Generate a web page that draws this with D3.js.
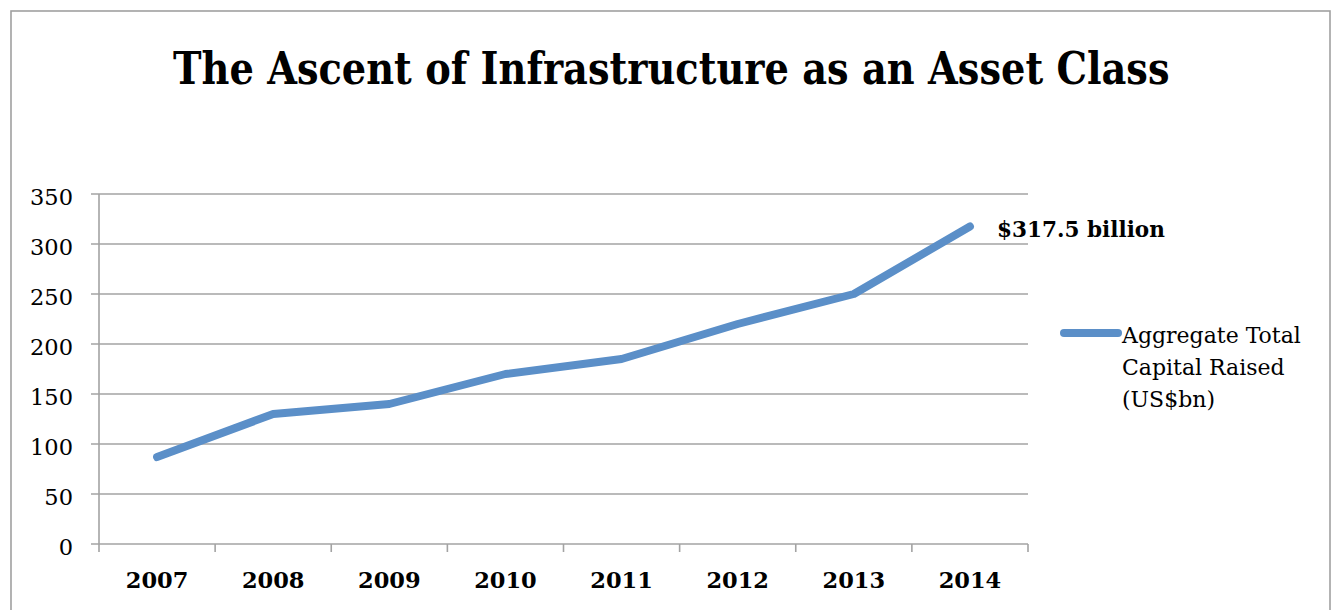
<!DOCTYPE html>
<html>
<head>
<meta charset="utf-8">
<script src="https://cdn.jsdelivr.net/npm/d3@7"></script>
<style>
  html, body { margin: 0; padding: 0; background: #fff; }
  svg { display: block; }
  text { font-family: "DejaVu Serif", "Liberation Serif", serif; fill: #000; }
</style>
</head>
<body>
<svg id="chart" width="1335" height="610"></svg>
<script>
const title = "The Ascent of Infrastructure as an Asset Class";
const years = ["2007", "2008", "2009", "2010", "2011", "2012", "2013", "2014"];
const capitalRaised = [87, 130, 140, 170, 185, 220, 250, 317.5];
const yTicks = [0, 50, 100, 150, 200, 250, 300, 350];
const seriesName = ["Aggregate Total", "Capital Raised", "(US$bn)"];
const annotation = "$317.5 billion";

const svg = d3.select("#chart");
const lineColor = "#5B8FC8";
const gridColor = "#a3a3a3";

// fit a text to a target width, then stretch vertically to a target cap height
function fitText(sel, x0, baseline, width, capHeight) {
  const base = 40;
  sel.attr("font-size", base);
  const w = sel.node().getComputedTextLength();
  const fs = base * width / w;
  sel.attr("font-size", fs);
  const sy = capHeight / (0.729 * fs);
  sel.attr("x", 0).attr("y", 0)
     .attr("transform", `translate(${x0},${baseline}) scale(1,${sy})`);
}

// outer frame
svg.append("rect")
  .attr("x", 11).attr("y", 11)
  .attr("width", 1319).attr("height", 640)
  .attr("fill", "none").attr("stroke", "#a0a0a0").attr("stroke-width", 1.6);

// title
const titleText = svg.append("text").attr("font-weight", "bold").text(title);
fitText(titleText, 173, 84, 997, 33);

const x = d3.scaleBand().domain(years).range([99, 1028]);
const y = d3.scaleLinear().domain([0, 350]).range([544, 194]);

// gridlines (and left tick marks)
svg.append("g").selectAll("line").data(yTicks).join("line")
  .attr("x1", 91).attr("x2", 1028)
  .attr("y1", d => y(d)).attr("y2", d => y(d))
  .attr("stroke", gridColor).attr("stroke-width", 1.6);

// y axis line
svg.append("line")
  .attr("x1", 99).attr("x2", 99)
  .attr("y1", y(350)).attr("y2", y(0) + 8)
  .attr("stroke", gridColor).attr("stroke-width", 1.6);

// x tick marks at band boundaries
const boundaries = years.map(d => x(d)).concat([x(years[years.length - 1]) + x.bandwidth()]);
svg.append("g").selectAll("line").data(boundaries.slice(1)).join("line")
  .attr("x1", d => d).attr("x2", d => d)
  .attr("y1", y(0)).attr("y2", y(0) + 8)
  .attr("stroke", gridColor).attr("stroke-width", 1.6);

// y labels
svg.append("g").selectAll("text").data(yTicks).join("text")
  .attr("x", 73).attr("y", d => y(d) + 10.5)
  .attr("text-anchor", "end").attr("font-size", 22.5)
  .text(d => d);

// x labels
svg.append("g").selectAll("text").data(years).join("text")
  .attr("x", d => x(d) + x.bandwidth() / 2).attr("y", 588)
  .attr("text-anchor", "middle").attr("font-size", 22.5).attr("font-weight", "bold")
  .text(d => d);

// data line
const line = d3.line()
  .x((d, i) => x(years[i]) + x.bandwidth() / 2)
  .y(d => y(d));
svg.append("path")
  .datum(capitalRaised)
  .attr("d", line)
  .attr("fill", "none").attr("stroke", lineColor)
  .attr("stroke-width", 8).attr("stroke-linecap", "round").attr("stroke-linejoin", "round");

// annotation
const ann = svg.append("text").attr("font-weight", "bold").text(annotation);
fitText(ann, 997, 237, 168, 16.5);

// legend
svg.append("line")
  .attr("x1", 1064).attr("x2", 1118)
  .attr("y1", 333).attr("y2", 333)
  .attr("stroke", lineColor).attr("stroke-width", 8).attr("stroke-linecap", "round");
svg.append("g").selectAll("text").data(seriesName).join("text")
  .attr("x", 1122).attr("y", (d, i) => 343 + i * 32)
  .attr("font-size", 22)
  .text(d => d);
</script>
</body>
</html>
